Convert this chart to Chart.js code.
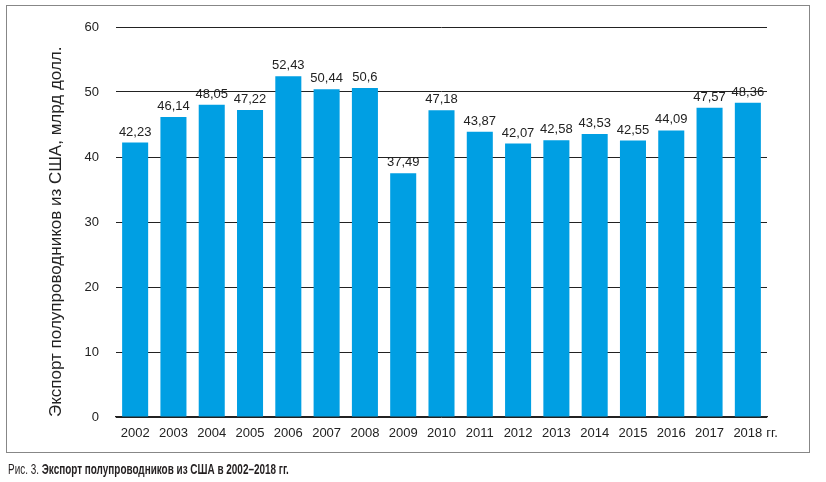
<!DOCTYPE html>
<html>
<head>
<meta charset="utf-8">
<script src="https://cdn.jsdelivr.net/npm/chart.js@4/dist/chart.umd.min.js"></script>
<style>
  html,body{margin:0;padding:0;background:#fff;}
  #wrap{position:relative;width:826px;height:482px;overflow:hidden;}
  #frame{position:absolute;left:6px;top:5px;width:802px;height:446px;border:1.5px solid #878787;}
  #c{position:absolute;left:0;top:0;}
  #cap{position:absolute;left:8px;top:461px;font-family:"Liberation Sans",Arial,sans-serif;font-size:14px;color:#231f20;white-space:nowrap;transform-origin:0 0;}
  #cap b{font-weight:bold;}
</style>
</head>
<body>
<div id="wrap">
  <div id="frame"></div>
  <canvas id="c" width="826" height="482"></canvas>
  <div id="cap">Рис. 3. <b>Экспорт полупроводников из США в 2002–2018 гг.</b></div>
</div>
<script>
const years = ['2002','2003','2004','2005','2006','2007','2008','2009','2010','2011','2012','2013','2014','2015','2016','2017','2018'];
const exportBn = [42.23,46.14,48.05,47.22,52.43,50.44,50.6,37.49,47.18,43.87,42.07,42.58,43.53,42.55,44.09,47.57,48.36];
const yTicks = [0,10,20,30,40,50,60];
const yTitle = 'Экспорт полупроводников из США, млрд долл.';
const lastSuffix = 'гг.';

const fmt = v => String(v).replace('.', ',');

// caption is set in a narrow face in the original: squeeze it to the same width
const cap = document.getElementById('cap');
cap.style.transform = 'scaleX(' + (281 / cap.offsetWidth) + ')';

// value labels above bars + "гг." after last year
const valueLabels = {
  id:'valueLabels',
  afterDatasetsDraw(chart){
    const ctx = chart.ctx;
    const meta = chart.getDatasetMeta(0);
    ctx.save();
    ctx.font = '13px "Liberation Sans", Arial, sans-serif';
    ctx.fillStyle = '#222';
    ctx.textAlign = 'center';
    ctx.textBaseline = 'bottom';
    meta.data.forEach((bar, i)=>{
      ctx.fillText(fmt(exportBn[i]), bar.x, bar.y - 4);
    });
    const xs = chart.scales.x;
    const lastX = xs.getPixelForValue(years.length - 1);
    ctx.textAlign = 'left';
    ctx.textBaseline = 'middle';
    const w = ctx.measureText(years[years.length-1]).width;
    ctx.fillText(lastSuffix, lastX + w/2 + 4, xs.top + 16);
    ctx.restore();
  }
};

new Chart(document.getElementById('c'), {
  type:'bar',
  data:{
    labels: years,
    datasets:[{
      data: exportBn,
      backgroundColor:'#009fe3',
      borderWidth:0,
      barPercentage:0.68,
      categoryPercentage:1
    }]
  },
  options:{
    responsive:false,
    animation:false,
    layout:{padding:{top:27,right:59,bottom:35,left:0}},
    plugins:{legend:{display:false}, tooltip:{enabled:false}},
    scales:{
      x:{
        grid:{display:false, drawTicks:false},
        border:{display:true, color:'#222', width:1.2},
        ticks:{color:'#222', font:{size:13, family:'"Liberation Sans", Arial, sans-serif'}, padding:9, maxRotation:0, autoSkip:false},
        afterFit(s){ s.height = 30; }
      },
      y:{
        min:0, max:60,
        afterBuildTicks(s){ s.ticks = yTicks.map(v=>({value:v})); },
        grid:{color:'#222', lineWidth:1, drawTicks:false},
        border:{display:false},
        ticks:{color:'#222', font:{size:13, family:'"Liberation Sans", Arial, sans-serif'}, padding:17},
        title:{display:true, text:yTitle, align:'start', color:'#222', font:{size:17, family:'"Liberation Sans", Arial, sans-serif'}, padding:{top:46,bottom:0}},
        afterFit(s){ s.width = 116; }
      }
    }
  },
  plugins:[valueLabels]
});
</script>
</body>
</html>
